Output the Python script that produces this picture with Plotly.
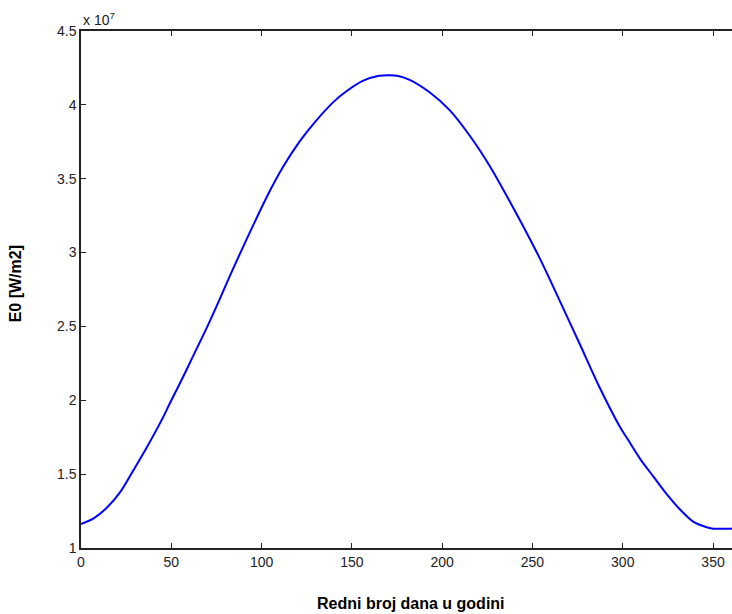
import plotly.graph_objects as go

# Day of year
days = [0, 7, 14, 22, 29, 36, 45, 49, 55, 62, 70, 77, 84, 94, 103, 112, 121,
        130, 140, 147, 156, 165, 171, 175, 182, 193, 204, 215, 226, 237, 249, 254,
        260, 265, 276, 287, 298, 304, 310, 317, 324, 332, 339, 346, 350, 355, 360, 363]
# E0 values in units of 1e7
e0 = [1.162, 1.201, 1.269, 1.383, 1.526, 1.672, 1.874, 1.975, 2.120, 2.297, 2.500,
      2.690, 2.885, 3.150, 3.380, 3.582, 3.751, 3.890, 4.022, 4.092, 4.162,
      4.197, 4.200, 4.197, 4.169, 4.085, 3.966, 3.796, 3.593, 3.356, 3.082, 2.962,
      2.808, 2.676, 2.386, 2.092, 1.830, 1.712, 1.597, 1.483, 1.370, 1.257, 1.178,
      1.142, 1.131, 1.130, 1.131, 1.138]

x_ticks = [0, 50, 100, 150, 200, 250, 300, 350]
y_ticks = [1, 1.5, 2, 2.5, 3, 3.5, 4, 4.5]
y_tick_text = ["1", "1.5", "2", "2.5", "3", "3.5", "4", "4.5"]

font_family = "Liberation Sans, Arial, sans-serif"

fig = go.Figure()
fig.add_trace(go.Scatter(
    x=days, y=e0, mode="lines",
    line=dict(color="#0000ff", width=2, shape="spline", smoothing=0.8),
    showlegend=False, hoverinfo="skip",
))

fig.update_layout(
    width=732, height=614,
    margin=dict(l=81, r=0, t=31, b=66),
    paper_bgcolor="white", plot_bgcolor="white",
    font=dict(family=font_family, size=14, color="#222"),
    xaxis=dict(
        range=[0, 360.5], tickvals=x_ticks, ticks="inside", ticklen=5,
        tickcolor="#222", showline=True, linecolor="#222", linewidth=1.5,
        mirror="ticks", showgrid=False, zeroline=False,
        tickfont=dict(size=14, family=font_family, color="#222"),
    ),
    yaxis=dict(
        range=[1, 4.5], tickvals=y_ticks, ticktext=y_tick_text, ticks="inside",
        ticklen=5, tickcolor="#222", showline=True, linecolor="#222",
        linewidth=1.5, showgrid=False, zeroline=False,
        tickfont=dict(size=14, family=font_family, color="#222"),
    ),
    annotations=[
        dict(text="x 10<sup>7</sup>", xref="paper", yref="paper", x=0, y=1,
             xanchor="left", yanchor="bottom", showarrow=False, yshift=1,
             font=dict(size=14, family=font_family, color="#222")),
        dict(text="<b>Redni broj dana u godini</b>", xref="paper", yref="paper",
             x=0.507, y=0, xanchor="center", yanchor="middle", yshift=-55,
             showarrow=False, font=dict(size=16, family=font_family, color="#000")),
        dict(text="<b>E0 [W/m2]</b>", xref="paper", yref="paper",
             x=0, y=0.51, xanchor="center", yanchor="middle", xshift=-66,
             textangle=-90, showarrow=False,
             font=dict(size=16, family=font_family, color="#000")),
    ],
)

fig.write_html("out.html",
               config={"displayModeBar": False},
               post_script="document.body.style.margin='0';document.body.style.overflow='hidden';")
